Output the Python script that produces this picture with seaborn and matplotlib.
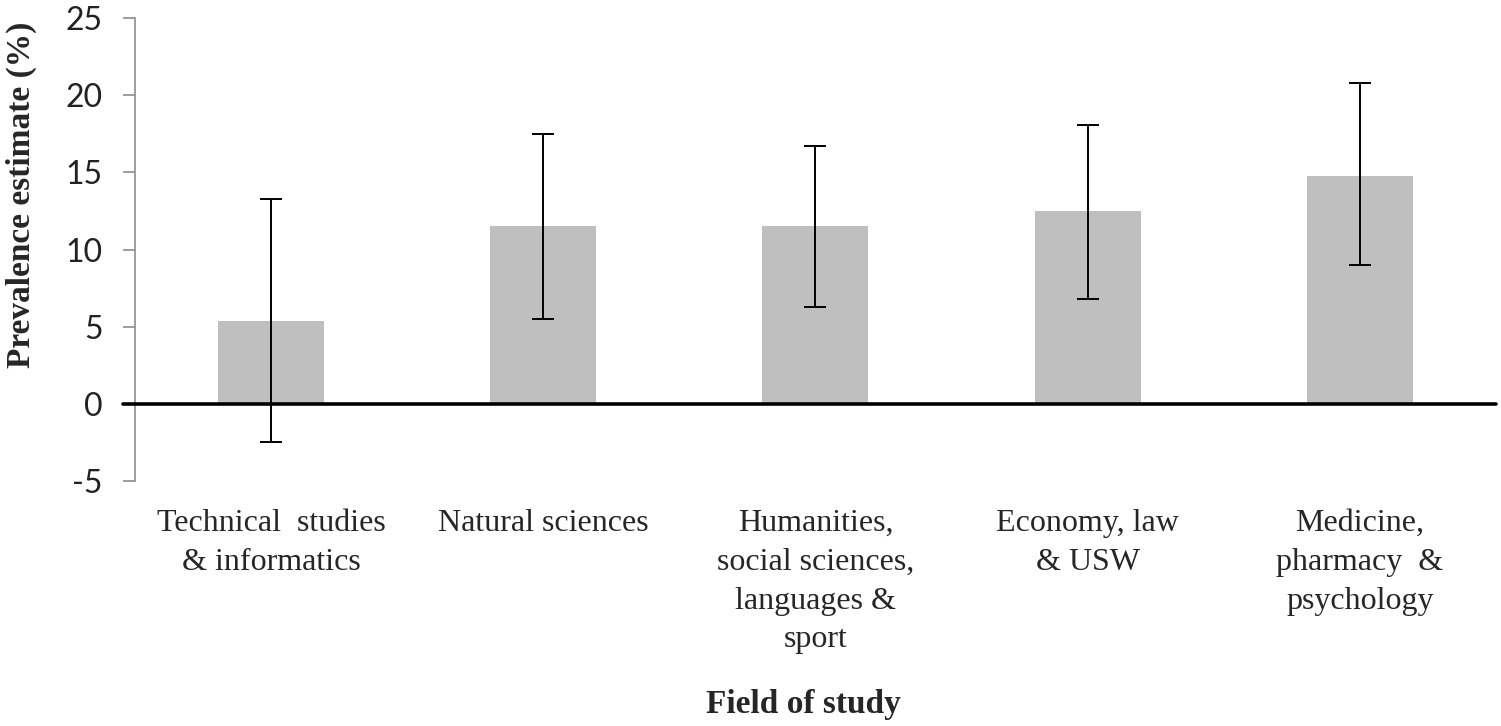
import matplotlib
matplotlib.use("Agg")
import matplotlib.pyplot as plt
import matplotlib.transforms as mtransforms
import seaborn as sns
import pandas as pd
import numpy as np

categories = [
    "Technical  studies\n& informatics",
    "Natural sciences",
    "Humanities,\nsocial sciences,\nlanguages &\nsport",
    "Economy, law\n& USW",
    "Medicine,\npharmacy  &\npsychology",
]
estimates = [5.4, 11.5, 11.5, 12.5, 14.8]
ci_lower = [-2.5, 5.5, 6.3, 6.8, 9.0]
ci_upper = [13.3, 17.5, 16.7, 18.1, 20.8]
yticks = [-5, 0, 5, 10, 15, 20, 25]

df = pd.DataFrame({"field": categories, "estimate": estimates})

sns.set_theme(style="white")
fig = plt.figure(figsize=(15.01, 7.26), dpi=100)
ax = fig.add_axes([0.0899, 0.3375, 0.9067, 0.6375])

sns.barplot(data=df, x="field", y="estimate", color="#BFBFBF", saturation=1,
            width=0.39, errorbar=None, ax=ax, edgecolor="none")

x = np.arange(len(categories))
est = np.array(estimates)
lo = est - np.array(ci_lower)
hi = np.array(ci_upper) - est
ax.errorbar(x, est, yerr=[lo, hi], fmt="none", ecolor="black",
            elinewidth=1.4, capsize=8, capthick=1.4, zorder=5)

ax.set_xlim(-0.5, len(categories) - 0.5)
ax.set_ylim(-5, 25)
ax.set_yticks(yticks)
ax.set_yticklabels([str(t) for t in yticks], fontfamily="Lato", fontsize=23, color="#222222")

# zero line
trans = mtransforms.blended_transform_factory(ax.transAxes, ax.transData)
ax.plot([-0.009, 1.0], [0, 0], color="black", lw=2.6, transform=trans, clip_on=False, zorder=6)

for s in ["top", "right", "bottom"]:
    ax.spines[s].set_visible(False)
ax.spines["left"].set_color("#8C8C8C")
ax.spines["left"].set_linewidth(1.2)
ax.tick_params(axis="y", direction="out", length=9, width=1.2, color="#8C8C8C", pad=14, left=True)
ax.tick_params(axis="x", length=0, pad=20)

ax.set_xticks(x)
ax.set_xticklabels(categories, fontfamily="Liberation Serif", fontsize=23,
                   linespacing=1.45, va="top", ha="center")

ax.set_xlabel("")
ax.set_ylabel("")
fig.text(0.535, 0.029, "Field of study", fontfamily="Liberation Serif", fontsize=24,
         fontweight="bold", ha="center", va="center")
fig.text(21 / 1501, 1 - 195 / 726, "Prevalence estimate (%)", fontfamily="Liberation Serif",
         fontsize=24, fontweight="bold", rotation=90, ha="center", va="center")

fig.savefig("out.png", dpi=100, facecolor="white")
